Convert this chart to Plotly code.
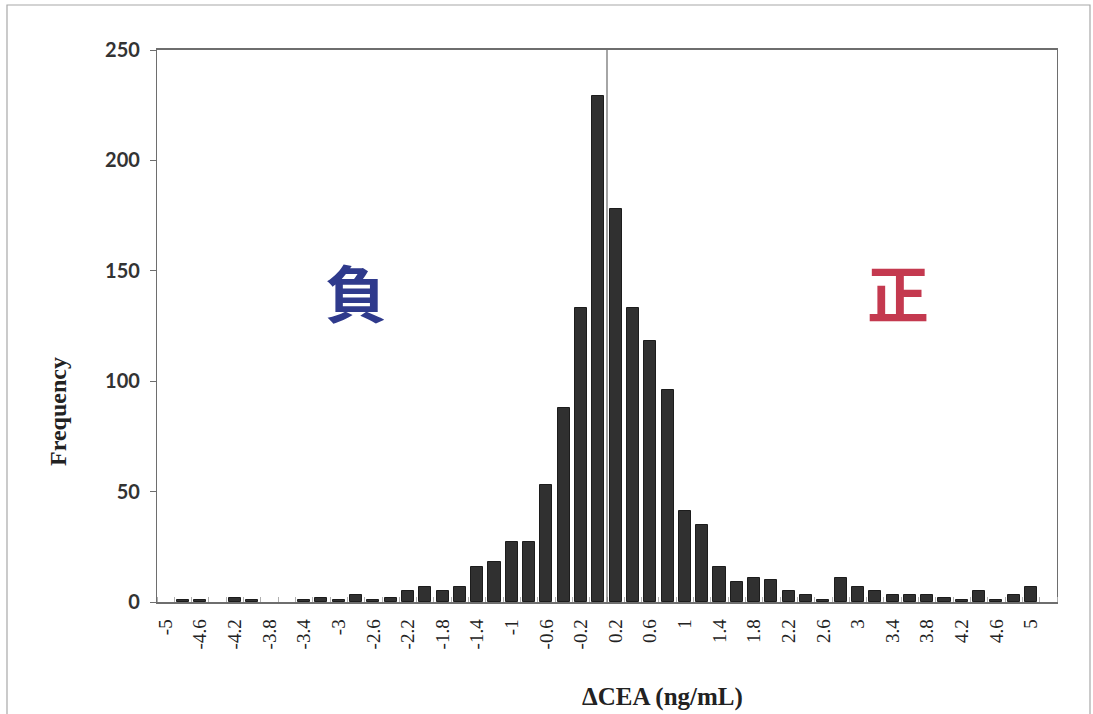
import plotly.graph_objects as go

# ---- data ----
bin_centers = [round(-5 + 0.2 * i, 1) for i in range(51)]
frequency = [0, 1, 1, 0, 2, 1, 0, 0, 1, 2,
             1, 3, 1, 2, 5, 7, 5, 7, 16, 18,
             27, 27, 53, 88, 133, 229, 178, 133, 118, 96,
             41, 35, 16, 9, 11, 10, 5, 3, 1, 11,
             7, 5, 3, 3, 3, 2, 1, 5, 1, 3, 7]
tick_values = [round(-5 + 0.4 * i, 1) for i in range(26)]
tick_labels = ["-5", "-4.6", "-4.2", "-3.8", "-3.4", "-3", "-2.6", "-2.2", "-1.8",
               "-1.4", "-1", "-0.6", "-0.2", "0.2", "0.6", "1", "1.4", "1.8",
               "2.2", "2.6", "3", "3.4", "3.8", "4.2", "4.6", "5"]
divider_x = 0.1
neg_label = "負"
pos_label = "正"
x_title = "ΔCEA (ng/mL)"
y_title = "Frequency"

W, H = 1093, 714
L, R, T, B = 157, 36, 50, 112

outline_widths = [1 if v > 0 else 0 for v in frequency]

fig = go.Figure()
fig.add_trace(go.Bar(
    x=bin_centers, y=frequency, width=0.14,
    marker=dict(color="#303030", line=dict(color="#1c1c1c", width=outline_widths)),
    showlegend=False,
))

# divider line at the boundary between 0 and 0.2
fig.add_shape(type="line", xref="x", yref="y", x0=divider_x, x1=divider_x, y0=0, y1=250,
              line=dict(color="#6a6a6a", width=1.2))

# outer chart frame
pw, ph = W - L - R, H - T - B
fig.add_shape(type="rect", xref="paper", yref="paper",
              x0=(7 - L) / pw, x1=(1090 - L) / pw,
              y0=(H - B - 718) / ph, y1=(H - B - 5) / ph,
              line=dict(color="#a8a8a8", width=1.2), fillcolor="rgba(0,0,0,0)", layer="below")

fig.add_annotation(x=-2.8, y=141, xref="x", yref="y", text=neg_label, showarrow=False,
                   font=dict(family="Noto Sans CJK TC", size=62, color="#2f3a8c", weight="bold"))
fig.add_annotation(x=3.46, y=141, xref="x", yref="y", text=pos_label, showarrow=False,
                   font=dict(family="Noto Sans CJK TC", size=62, color="#c4394f", weight="bold"))

fig.add_annotation(x=(662 - L) / pw, y=(H - B - 697) / ph, xref="paper", yref="paper",
                   xanchor="center", yanchor="middle",
                   text="<b>" + x_title + "</b>", showarrow=False,
                   font=dict(family="Liberation Serif", size=25, color="#222"))
fig.add_annotation(x=(58 - L) / pw, y=(H - B - 412) / ph, xref="paper", yref="paper",
                   xanchor="center", yanchor="middle",
                   text="<b>" + y_title + "</b>", showarrow=False, textangle=-90,
                   font=dict(family="Liberation Serif", size=24, color="#222"))

fig.update_layout(
    width=W, height=H,
    margin=dict(l=L, r=R, t=T, b=B),
    paper_bgcolor="white", plot_bgcolor="white",
    bargap=0,
    xaxis=dict(
        range=[-5.1, 5.3], tickmode="array", tickvals=tick_values, ticktext=tick_labels,
        tickangle=-90, ticks="", showgrid=False, zeroline=False,
        showline=True, linecolor="#6e6e6e", linewidth=1.5, mirror=True,
        tickfont=dict(family="Liberation Serif", size=19, color="#222"),
        ticklabelstandoff=8,
        minor=dict(ticks="inside", tick0=-5.1, dtick=0.2, ticklen=5,
                   tickcolor="#b0b0b0", tickwidth=1, showgrid=False),
        fixedrange=True,
    ),
    yaxis=dict(
        range=[0, 250], tickmode="linear", tick0=0, dtick=50,
        ticks="outside", ticklen=6, tickcolor="#6e6e6e", showgrid=False, zeroline=False,
        showline=True, linecolor="#6e6e6e", linewidth=1.2, mirror=True,
        tickfont=dict(family="Lato", size=20, color="#333", weight="bold"),
        ticklabelstandoff=6,
        fixedrange=True,
    ),
)

fig.write_html("out.html")
